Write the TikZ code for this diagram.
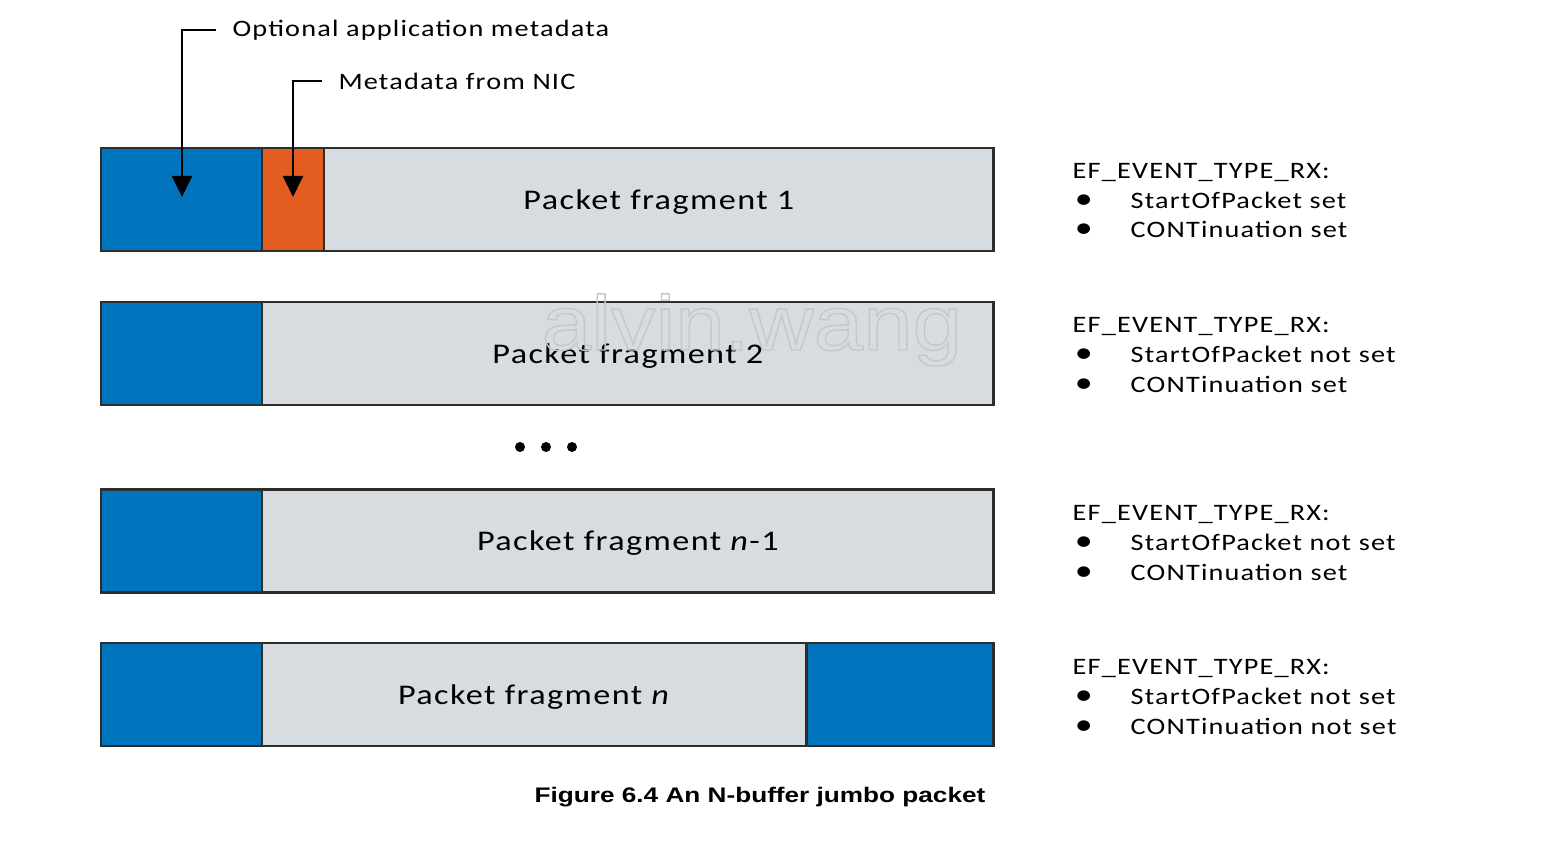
\documentclass[tikz,border=0pt]{standalone}
\usepackage{fontspec}
\setmainfont{Carlito}[FakeStretch=1.2,LetterSpace=5]
\newfontfamily\capfont{Liberation Sans}[FakeStretch=1.24]
\newfontfamily\wmfont{Liberation Sans}[FakeStretch=1.15]
\usetikzlibrary{positioning,arrows.meta}
\definecolor{bufblue}{RGB}{0,117,190}
\definecolor{nicorange}{RGB}{227,93,32}
\definecolor{fraggray}{RGB}{214,220,223}
\definecolor{edgegray}{RGB}{45,45,45}
\newcommand{\flagdot}{\hspace*{0.6pt}\makebox[15.9pt][l]{\fontsize{8.5}{8.4}\selectfont\textbullet}}
\newcommand{\rxflags}[2]{EF\_EVENT\_TYPE\_RX:\\
  \flagdot StartOfPacket #1\\
  \flagdot CONTinuation #2}

\begin{document}
\begin{tikzpicture}[x=0.01cm,y=-0.01cm,
    seg/.style={draw=edgegray, line width=0.7pt, minimum height=1.03cm,
      inner sep=0pt, outer sep=0pt, anchor=west},
    meta/.style={seg, fill=bufblue},
    frag/.style={seg, fill=fraggray, text depth=0pt, font=\fontsize{8.1}{9.7}\selectfont},
    lbl/.style={anchor=west, inner xsep=4.5pt, inner ysep=0pt,
      font=\fontsize{6.7}{8}\selectfont},
    flags/.style={anchor=west, align=left, inner sep=0pt,
      font=\fontsize{6.7}{8.4}\selectfont},
    dot/.style={circle, fill=black, inner sep=0pt, minimum size=0.1cm},
    pointer/.style={draw=black, line width=0.6pt,
      -{Triangle[length=6pt,width=5.7pt]}}]
  \useasboundingbox (0,0) rectangle (1549,862);

  \node[lbl] (optlbl) at (216,30) {Optional application metadata};
  \node[lbl] (niclbl) at (322,81) {Metadata from NIC};

  \node[meta, minimum width=1.61cm] (app1) at (101,199.5) {};
  \node[seg, fill=nicorange, minimum width=0.62cm, right=0pt of app1] (nic1) {};
  \node[frag, minimum width=6.69cm, right=0pt of nic1] (frag1) {Packet fragment 1};

  \node[meta, minimum width=1.61cm] (app2) at (101,353.5) {};
  \node[frag, minimum width=7.31cm, right=0pt of app2] (frag2) {Packet fragment 2};

  \foreach \i/\x in {1/520,2/546,3/572}
    \node[dot] (dot\i) at (\x,447) {};

  \node[meta, minimum width=1.61cm] (app3) at (101,541) {};
  \node[frag, minimum width=7.31cm, right=0pt of app3] (frag3) {Packet fragment \textit{n}-1};

  \node[meta, minimum width=1.61cm] (app4) at (101,694.5) {};
  \node[frag, minimum width=5.44cm, right=0pt of app4] (frag4) {Packet fragment \textit{n}};
  \node[meta, minimum width=1.87cm, right=0pt of frag4] (tail4) {};

  \node[anchor=base, text=black!12, font=\wmfont\fontsize{22}{24}\selectfont]
    (mark) at (752,350)
    {\special{pdf:literal direct 1 Tr 0.4 w 0.78 G}alvin.wang\special{pdf:literal direct 0 Tr}};

  \coordinate (opttip) at (182,197);
  \coordinate (nictip) at (293,197);
  \draw[pointer] (optlbl.west) -| (opttip);
  \draw[pointer] (niclbl.west) -| (nictip);

  \node[flags] (flags1) at (1072,201) {\rxflags{set}{set}};
  \node[flags] (flags2) at (1072,355) {\rxflags{not set}{set}};
  \node[flags] (flags3) at (1072,543) {\rxflags{not set}{set}};
  \node[flags] (flags4) at (1072,697) {\rxflags{not set}{not set}};

  \node[font=\capfont\bfseries\fontsize{6}{7}\selectfont] (caption) at (760,797)
    {Figure 6.4 An N-buffer jumbo packet};
\end{tikzpicture}
\end{document}
